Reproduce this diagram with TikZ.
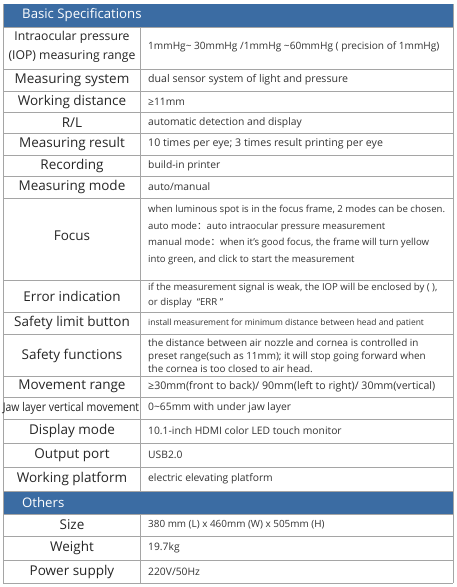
\documentclass[tikz,border=0pt]{standalone}
\usepackage{fontspec}
\setmainfont{Open Sans}
\newfontfamily\cjk{Noto Sans CJK SC}
\definecolor{specblue}{RGB}{59,108,163}
\definecolor{rulegray}{RGB}{165,165,165}

\begin{document}
\begin{tikzpicture}[x=1pt, y=-1pt,
    barhead/.style={anchor=west, text=white, inner sep=0, font=\fontsize{13.2}{15}\selectfont},
    rowname/.style={inner sep=0, align=center, text=black!85, font=\fontsize{13.5}{19}\selectfont},
    rowtext/.style={anchor=west, inner sep=0, align=left, text=black!80, font=\fontsize{10.3}{13}\selectfont},
    grid/.style={rulegray, line width=0.8pt}]
    \useasboundingbox[fill=white] (0,0) rectangle (457,587);
    % Header bars
    \fill[specblue] (3,4) rectangle (453,27);
    \fill[specblue] (3,491) rectangle (453,514);
    \node[barhead] (basic) at (22,15.5) {Basic Specifications};
    \node[barhead] (others) at (22,502.5) {Others};
    % Grid
    \foreach \y in {27,69,91,112,133,155,176,198,280,312,334,376,397,419,443,467,491,514,536,560,583}
        \draw[grid] (3,\y) -- (453,\y);
    \draw[grid] (3,4) -- (3,583);
    \draw[grid] (453,4) -- (453,583);
    \draw[grid] (140,27) -- (140,491);
    \draw[grid] (140,514) -- (140,583);
    % Basic specifications
    \node[rowname, font=\fontsize{12.2}{19}\selectfont] (iop) at (72,47) {Intraocular pressure\\(IOP) measuring range};
    \node[rowtext, font=\fontsize{10.1}{13}\selectfont] (iop-v) at (148,47) {1mmHg\textasciitilde{} 30mmHg /1mmHg \textasciitilde60mmHg ( precision of 1mmHg)};
    \node[rowname] (system) at (72,80) {Measuring system};
    \node[rowtext, font=\fontsize{10.6}{13}\selectfont] (system-v) at (148,80) {dual sensor system of light and pressure};
    \node[rowname] (distance) at (72,101.5) {Working distance};
    \node[rowtext] (distance-v) at (148,101.5) {≥11mm};
    \node[rowname] (rl) at (72,122.5) {R/L};
    \node[rowtext] (rl-v) at (148,122.5) {automatic detection and display};
    \node[rowname] (result) at (72,144) {Measuring result};
    \node[rowtext, font=\fontsize{10.6}{13}\selectfont] (result-v) at (148,144) {10 times per eye; 3 times result printing per eye};
    \node[rowname] (recording) at (72,165.5) {Recording};
    \node[rowtext] (recording-v) at (148,165.5) {build-in printer};
    \node[rowname] (mode) at (72,187) {Measuring mode};
    \node[rowtext] (mode-v) at (148,187) {auto/manual};
    \node[rowname] (focus) at (72,236) {Focus};
    \node[rowtext, font=\fontsize{9.6}{16.5}\selectfont] (focus-v) at (148,235)
        {when luminous spot is in the focus frame, 2 modes can be chosen.\\
         auto mode{\cjk ：}auto intraocular pressure measurement\\
         manual mode{\cjk ：}when it's good focus, the frame will turn yellow\\
         into green, and click to start the measurement};
    \node[rowname] (error) at (72,296) {Error indication};
    \node[rowtext, font=\fontsize{9.6}{15}\selectfont] (error-v) at (148,295)
        {if the measurement signal is weak, the IOP will be enclosed by ( ),\\
         or display \ “ERR ”};
    \node[rowname] (limit) at (72,323) {Safety limit button};
    \node[rowtext, font=\fontsize{8.45}{13}\selectfont] (limit-v) at (148,323) {install measurement for minimum distance between head and patient};
    \node[rowname] (safety) at (72,355.5) {Safety functions};
    \node[rowtext, font=\fontsize{9.9}{13}\selectfont] (safety-v) at (148,356)
        {the distance between air nozzle and cornea is controlled in\\
         preset range(such as 11mm); it will stop going forward when\\
         the cornea is too closed to air head.};
    \node[rowname] (movement) at (72,386.5) {Movement range};
    \node[rowtext, font=\fontsize{10.6}{13}\selectfont] (movement-v) at (148,386.5) {≥30mm(front to back)/ 90mm(left to right)/ 30mm(vertical)};
    \node[rowname] (jaw) at (71,408) {\scalebox{0.87}[1]{\fontsize{12}{14}\selectfont Jaw layer vertical movement}};
    \node[rowtext] (jaw-v) at (148,408) {0\textasciitilde65mm with under jaw layer};
    \node[rowname] (display) at (72,431) {Display mode};
    \node[rowtext] (display-v) at (148,431) {10.1-inch HDMI color LED touch monitor};
    \node[rowname] (port) at (72,455) {Output port};
    \node[rowtext] (port-v) at (148,455) {USB2.0};
    \node[rowname] (platform) at (72,479) {Working platform};
    \node[rowtext] (platform-v) at (148,479) {electric elevating platform};
    % Others
    \node[rowname] (size) at (72,525) {Size};
    \node[rowtext, font=\fontsize{9.9}{13}\selectfont] (size-v) at (148,525) {380 mm (L) x 460mm (W) x 505mm (H)};
    \node[rowname] (weight) at (72,548) {Weight};
    \node[rowtext] (weight-v) at (148,548) {19.7kg};
    \node[rowname] (power) at (72,571.5) {Power supply};
    \node[rowtext] (power-v) at (148,571.5) {220V/50Hz};
\end{tikzpicture}
\end{document}
